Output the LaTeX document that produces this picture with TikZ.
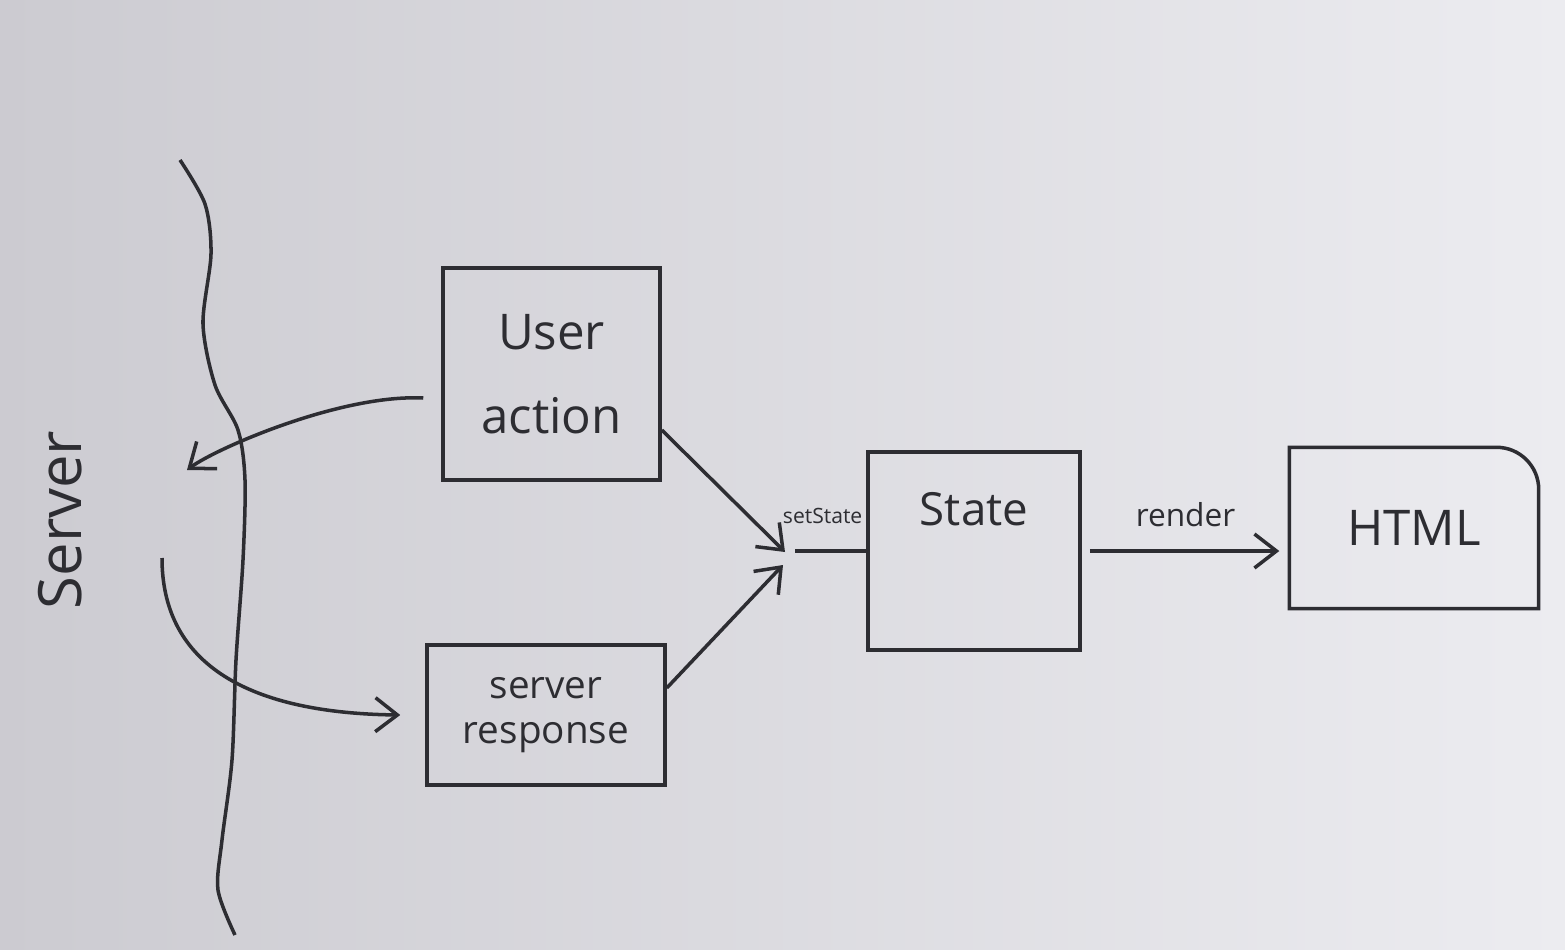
\documentclass[tikz,border=0pt]{standalone}
\usepackage{fontspec}
\setmainfont{Open Sans}
\usetikzlibrary{arrows.meta, positioning, calc}

\definecolor{ink}{RGB}{45,45,50}
\definecolor{paperL}{RGB}{204,203,209}
\definecolor{paperR}{RGB}{236,236,240}

\tikzset{
  box/.style={draw=ink, line width=1pt, inner sep=0pt, text=ink, align=center},
  plain/.style={draw=ink, line width=1pt},
  link/.style={plain, -{Straight Barb[length=2.2mm, width=3.4mm]}}
}

\begin{document}
\begin{tikzpicture}
    % Paper
    \shade[left color=paperL, right color=paperR] (0,0) rectangle (15.65,9.49);
    \useasboundingbox (0,0) rectangle (15.65,9.49);

    % Server boundary
    \draw[plain] plot[smooth] coordinates {(1.80,7.89) (2.05,7.45) (2.11,6.95) (2.03,6.25) (2.15,5.64) (2.38,5.19) (2.45,4.69) (2.43,3.89) (2.36,2.89) (2.32,1.89) (2.22,1.09) (2.18,0.59) (2.35,0.14)};
    \node[rotate=90, text=ink, font=\fontsize{17}{20}\selectfont] (srv) at (0.60,4.29) {Server};
    \coordinate (srvout) at (1.87,4.79);
    \coordinate (srvin) at (1.62,3.91);

    % Boxes
    \node[box, minimum width=2.17cm, minimum height=2.12cm, font=\fontsize{14}{24}\selectfont] (ua) at (5.515,5.75) {User\\action};
    \node[box, minimum width=2.38cm, minimum height=1.40cm, font=\fontsize{11}{13}\selectfont] (sr) at (5.46,2.34) {server\\response};
    \node[box, minimum width=2.12cm, minimum height=1.98cm,
          label={[anchor=north, yshift=-0.3cm, text=ink, font=\fontsize{13}{15}\selectfont]north:State}] (st) at (9.74,3.98) {};
    \node[inner sep=0pt, minimum width=2.48cm, minimum height=1.60cm, text=ink, font=\fontsize{14}{16}\selectfont] (html) at (14.14,4.21) {HTML};
    \draw[plain] (html.south west) -- (html.north west) [rounded corners=12pt] -- (html.north east) [sharp corners] -- (html.south east) -- cycle;

    % To and from the server
    \draw[link] ([xshift=-0.18cm, yshift=-0.24cm]ua.west) .. controls (3.4,5.55) and (2.15,5.0) .. (srvout);
    \draw[link] (srvin) .. controls (1.62,2.9) and (2.4,2.36) .. ([xshift=-0.25cm]sr.west);

    % setState
    \coordinate (in1) at (7.85,3.97);
    \coordinate (in2) at (7.83,3.84);
    \coordinate (setin) at (7.95,3.98);
    \draw[link] ([yshift=-0.56cm]ua.east) -- (in1);
    \draw[link] ([yshift=0.27cm]sr.east) -- (in2);
    \draw[plain] (setin) -- node[above=4pt, xshift=-0.08cm, text=ink, font=\fontsize{6}{7}\selectfont] (setlbl) {setState} (st.west);

    % render
    \draw[link, shorten <=0.08cm, shorten >=0.1cm] (st.east) -- node[above=3pt, text=ink, font=\fontsize{9}{10}\selectfont] (rlbl) {render} (st.east -| html.west);
\end{tikzpicture}
\end{document}
